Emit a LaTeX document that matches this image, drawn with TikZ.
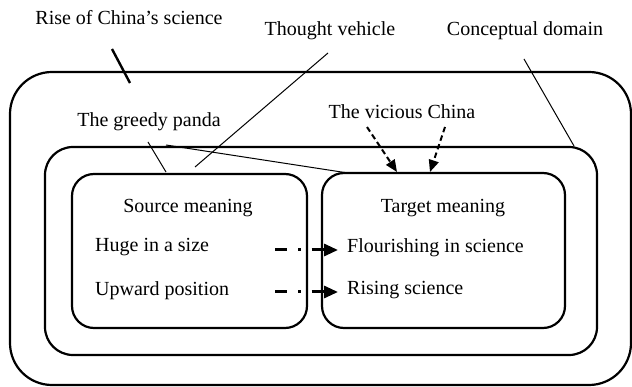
\documentclass[tikz,border=0pt]{standalone}
\usepackage{fontspec}
\setmainfont{Liberation Serif}
\usetikzlibrary{arrows.meta}
\begin{document}
\begin{tikzpicture}[x=1pt,y=-1pt,
  box/.style={draw, line width=2.2pt, inner sep=0pt},
  lbl/.style={inner sep=0pt, font=\fontsize{20}{24}\selectfont, text height=0.7em, text depth=0.2em},
  thin/.style={line width=1pt},
  vic/.style={line width=2pt, dash pattern=on 5.5pt off 3.5pt, -{Triangle[length=12pt,width=10pt]}},
  map/.style={line width=3pt, dash pattern=on 12pt off 11pt on 2.5pt off 11pt, -{Triangle[length=14pt,width=12pt]}}
]
\useasboundingbox (0,0) rectangle (632,387);
% boxes
\node (outer) [box, rounded corners=42pt, minimum width=621pt, minimum height=313pt] at (320.5,228.5) {};
\node (middle) [box, rounded corners=28pt, minimum width=552pt, minimum height=208pt] at (321,251) {};
\node (source) [box, rounded corners=22pt, minimum width=235pt, minimum height=154pt] at (189.5,251) {};
\node (target) [box, rounded corners=22pt, minimum width=243pt, minimum height=155pt] at (443.5,250.5) {};
% labels
\node (rise) [lbl] at (129,22) {Rise of China’s science};
\node (thought) [lbl] at (330,33) {Thought vehicle};
\node (concept) [lbl] at (525,33) {Conceptual domain};
\node (panda) [lbl] at (149,124) {The greedy panda};
\node (vicious) [lbl] at (402,116) {The vicious China};
\node (srcT) [lbl] at (188,210) {Source meaning};
\node (tgtT) [lbl] at (443,210) {Target meaning};
\node (huge) [lbl, anchor=west] at (95,249) {Huge in a size};
\node (upward) [lbl, anchor=west] at (95,293) {Upward position};
\node (flour) [lbl, anchor=west] at (347,250) {Flourishing in science};
\node (rising) [lbl, anchor=west] at (347,292) {Rising science};
% connector end points
\coordinate (riseA) at (112,49);
\coordinate (riseB) at (130,83);
\coordinate (thA) at (328,53);
\coordinate (thB) at (195,167);
\coordinate (coA) at (524,59);
\coordinate (coB) at (574,146);
\coordinate (paA) at (148,142);
\coordinate (paB) at (166,172);
\coordinate (paC) at (166,145);
\coordinate (paD) at (348,173);
\coordinate (viA) at (367,127);
\coordinate (viB) at (397,172);
\coordinate (viC) at (445,127);
\coordinate (viD) at (430,172);
\coordinate (m1A) at (275,250);
\coordinate (m1B) at (338,250);
\coordinate (m2A) at (275,292);
\coordinate (m2B) at (338,292);
% connectors
\draw[line width=2.4pt] (riseA) -- (riseB);
\draw[thin] (thA) -- (thB);
\draw[thin] (coA) -- (coB);
\draw[thin] (paA) -- (paB);
\draw[thin] (paC) -- (paD);
\draw[vic] (viA) -- (viB);
\draw[vic] (viC) -- (viD);
\draw[map] (m1A) -- (m1B);
\draw[map] (m2A) -- (m2B);
\end{tikzpicture}
\end{document}
